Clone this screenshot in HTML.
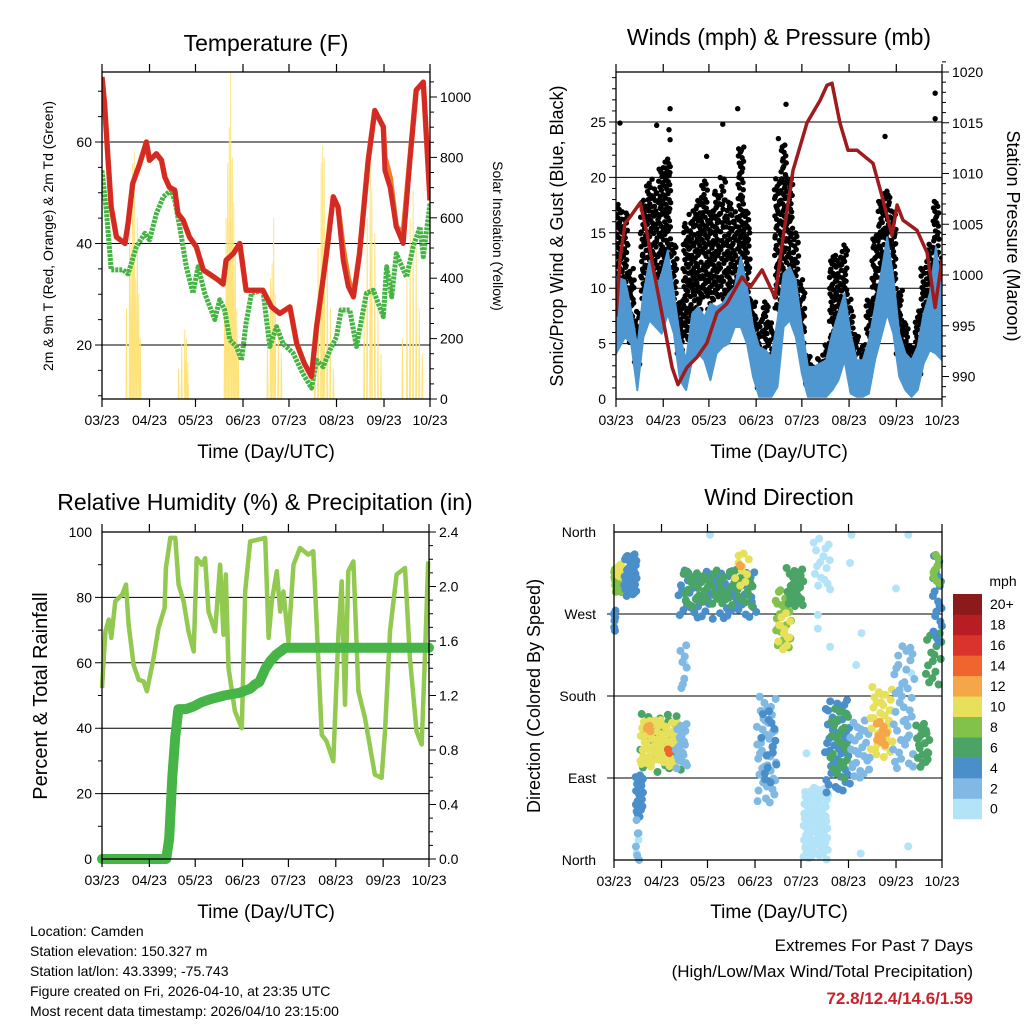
<!DOCTYPE html>
<html><head><meta charset="utf-8"><style>
body{margin:0;background:#fff;}
svg{display:block;font-family:"Liberation Sans",sans-serif;}
</style></head><body>
<svg id="c" width="1024" height="1024" viewBox="0 0 1024 1024">
<rect width="1024" height="1024" fill="#fff"/>
<g id="g1"></g>
<g id="g2"></g>
<g id="g3"></g>
<g id="g4"></g>
<text x="266" y="51" font-size="23" text-anchor="middle">Temperature (F)</text>
<text x="779" y="45" font-size="23" text-anchor="middle">Winds (mph) &amp; Pressure (mb)</text>
<text x="265" y="510" font-size="23" text-anchor="middle">Relative Humidity (%) &amp; Precipitation (in)</text>
<text x="779" y="505" font-size="23" text-anchor="middle">Wind Direction</text>
<text x="266" y="458" font-size="19" text-anchor="middle">Time (Day/UTC)</text>
<text x="779" y="458" font-size="19" text-anchor="middle">Time (Day/UTC)</text>
<text x="266" y="918" font-size="19" text-anchor="middle">Time (Day/UTC)</text>
<text x="779" y="918" font-size="19" text-anchor="middle">Time (Day/UTC)</text>
<text transform="translate(53,236) rotate(-90)" font-size="14" text-anchor="middle">2m &amp; 9m T (Red, Orange) &amp; 2m Td (Green)</text>
<text transform="translate(493,236) rotate(90)" font-size="14" text-anchor="middle">Solar Insolation (Yellow)</text>
<text transform="translate(563,236) rotate(-90)" font-size="18" text-anchor="middle">Sonic/Prop Wind &amp; Gust (Blue, Black)</text>
<text transform="translate(1007,236) rotate(90)" font-size="18" text-anchor="middle">Station Pressure (Maroon)</text>
<text transform="translate(47,696) rotate(-90)" font-size="20" text-anchor="middle">Percent &amp; Total Rainfall</text>
<text transform="translate(540,696) rotate(-90)" font-size="18" text-anchor="middle">Direction (Colored By Speed)</text>
<text x="1003" y="586" font-size="14" text-anchor="middle">mph</text>
<g font-size="14">
<text x="30" y="936">Location: Camden</text>
<text x="30" y="956">Station elevation: 150.327 m</text>
<text x="30" y="976">Station lat/lon: 43.3399; -75.743</text>
<text x="30" y="996">Figure created on Fri, 2026-04-10, at 23:35 UTC</text>
<text x="30" y="1016">Most recent data timestamp: 2026/04/10 23:15:00</text>
</g>
<text x="973" y="951" font-size="17" text-anchor="end">Extremes For Past 7 Days</text>
<text x="973" y="977" font-size="17" text-anchor="end">(High/Low/Max Wind/Total Precipitation)</text>
<text x="973" y="1004" font-size="17" font-weight="bold" fill="#c8232c" text-anchor="end">72.8/12.4/14.6/1.59</text>
</svg>
<script>
// ---------- DATA ----------
const monthTicks=[0,31,61,92,122,153,184,214];
const monthLabels=["03/23","04/23","05/23","06/23","07/23","08/23","09/23","10/23"];
const tDays=[0,1.7,4,6,9.4,15,17,20,24.6,29,31,35.5,38.8,41,44,47.5,49.6,53,57,61.6,66,70,75.8,79,81,85.6,89.9,94,98.6,105,110.6,116,122.6,127,132,136.7,140,146.5,150.9,154,157.4,160.7,164,168,173.7,178,183.5,184.6,188,192,196.5,201,205,209.6,214];
const tRed=[72.8,67.5,56.4,47.2,41.3,40,44,51.8,55.7,60,56.4,57.7,56.4,53.1,51.1,50.5,45.9,44.6,41.3,39.3,34.8,34,32.8,32,36.7,38,40,30.8,30.8,30.8,27.5,26.2,27.5,20.3,16.4,13.8,23.6,38,49.2,47.2,36.7,31.5,29.5,38,56.4,66.2,63,54.4,51.1,43.3,40,57,70.2,71.8,48.5];
const tOrange=[72.8,67.5,56.4,47.2,41.3,40,44,51.8,55.7,60,56.4,57.7,56.4,53.1,51.1,50.5,45.9,44.6,41.3,39.3,34.8,34,32.8,32,36.7,38,40,30.8,30.8,30.8,27.5,26.2,27.5,20.3,16.4,13.8,23.6,38,49.2,47.2,39,33,29.5,38,56.4,66.2,63,57,53,43.3,42,57,70.2,71.8,48.5];
const tdDays=[0,2.8,6,13.7,17,22.4,28,31,35.5,40,45,47.5,50.7,55,59.4,62.7,67,73.6,76.8,80,83.4,87.7,91,94,97.5,105,109.5,113.9,118,124.7,131,136.7,140,144.3,148.7,153,156,161.7,166,172.6,177,183.5,185.7,189,192,198.7,203,207.5,209.6,214];
const tdVals=[54.4,46.6,34.8,34.8,34,39.3,42,40.7,45.9,49.2,50.5,48.5,43.3,35.4,30.2,35.4,30.2,25,28.9,26.9,21,19.7,17,24.3,30.2,30.8,19.7,23.6,20.3,18.4,14.4,11.5,17,15.7,19,21.6,26.9,26.9,19.7,30.2,30.8,25.6,35.4,29.5,38,33.4,39.3,43.3,37.4,47.9];
const solarDays=[16,18,19,20,21,22,23,24,25,50,52,54,55,56,80,81,82,83,84,85,86,87,88,89,108,110,111,112,113,115,117,139,141,143,144,145,147,149,151,171,173,175,176,178,180,182,196,199,201,203,205,207,209];
const solarVals=[300,650,500,780,820,400,600,350,200,100,180,230,200,120,300,600,780,900,1080,800,650,500,300,150,200,400,450,600,350,250,150,200,500,780,840,800,600,300,100,300,600,790,700,550,300,150,200,400,600,690,500,300,150];
const pDays=[0,2.6,5.9,9.2,15.8,20.4,24.3,30.9,36.8,40.7,46.6,53.2,59.7,66.3,72.9,82.7,88,95.9,104.4,109.7,116.2,125.4,134,138.5,141.8,147,152.3,158.2,168.7,175.3,181.2,184.5,188.4,197.6,204.2,209.5,214];
const pVals=[995.9,1001.5,1005.1,1005.7,1007.1,1004.1,1000.8,995.6,990.9,989.2,990.9,991.9,993.3,996.3,997.2,999.8,998.8,1000.5,997.8,1003.7,1010.3,1015,1017.2,1018.7,1018.9,1015,1012.3,1012.3,1011,1007.4,1003.9,1006.9,1005.4,1004.4,1002.2,996.8,1001.5];
const windStep=4;
const blueHi=[11,10.7,8,4.7,9.5,12.5,9.8,11.3,13.4,9.5,5.6,3.5,7.7,8.3,7.4,8.6,8.3,8.6,9.5,10.1,12.8,10.1,6.5,4.7,4.4,3.8,7.1,11.3,11.9,10.7,6.5,2.9,2.9,3.2,3.5,5.9,7.7,9.5,5.9,3.5,3.5,5.3,8.3,11.3,14.6,11,5.9,4.1,3.5,4.7,7.7,9.5,13.7,9.5];
const blueLo=[4.1,5.6,5,0.8,5.6,7.1,6.5,5.9,7.7,5.9,1.7,0.8,3.5,4.1,3.5,1.7,4.1,4.7,5,6.5,6.5,5,2,0.2,0.2,0.2,1.1,6.5,7.1,5.6,2.3,0.2,0.2,0.2,0.2,0.8,1.7,3.5,0.5,0.2,0.2,0.5,3.5,5.6,7.7,5.9,2,0.8,0.2,0.8,3.2,4.4,4.1,3.5];
const gustHi=[18,17,12,8,18,20,19,21,22,14,9,16,17,18,20,17,19,20,18,17,23,17,9,7,9,7,20,23,20,15,11,4,3,4,5,13,13,14,9,6,5,9,15,18,19,17,10,7,5,8,12,14,18,13];
const gustLo=[6,8,5,3,9,10,8,10,11,7,4,5,7,8,9,8,9,9,8,8,10,9,4,1,2,1,8,10,10,7,4,1,0.5,0.5,1,3,5,6,2,1,1,2,7,9,10,8,4,2,0.5,2,5,7,6,6];
const gustOutDays=[2.6,35.5,26.7,79.9,70.1,111.6,209.5,209.5,176.6,34.8,35.5,106.6,59.5];
const gustOutVals=[24.9,26.2,24.7,26.2,24.8,26.6,27.6,25.3,23.7,24.3,23.4,23.5,21.9];
const rhDays=[0,2.2,4.4,6.1,8.7,13.1,15.7,17.4,20.7,24,27.2,29.4,33.8,37,41,41.8,44.7,48,50.1,53.4,56.6,60,62,65.4,67.5,69.7,74,77.3,79.5,81,82.8,87,91.5,93.7,97,106.8,109,111.1,114.4,116.6,118.7,122,125.3,129.6,135,138.3,140.5,143.8,147,151.4,154.7,156.9,159,161.2,164.5,167.8,172.1,178.6,183,185.2,188.5,192.8,198.3,201.5,205.9,209.2,211.3,213.5];
const rhVals=[52.3,69.6,73.2,67.6,78.8,80.8,83.9,71.7,59.4,54.8,54.3,51.3,61.5,70.6,76.8,89,98.2,98.2,83.9,78.8,69.6,63.5,92,90,92,75.7,69.6,90,68.6,87,58.4,45.2,40,81.9,97.1,98.2,67.6,78.8,88,75.7,81.8,66.6,90,95.1,93.1,94.1,71.7,38,36,29.9,68.6,84.9,47.2,88,91,51.3,43.1,25.8,24.8,39,69.6,87,89,61.5,39,35,61.5,91];
const prDays=[0,42,44,46,48,50,55,60,65,70,80,90,97,100,103,107,110,114,120,214];
const prVals=[0,0,0.15,0.6,0.9,1.1,1.1,1.12,1.15,1.17,1.2,1.22,1.25,1.28,1.3,1.4,1.45,1.5,1.55,1.55];
const clDay0=[0,17,1.7,6.5,0,17,21,35,40,14,13.7,42,45,79,82,43,93,96,105,107,112.6,123.5,130,137.6,141,154,167,171,182,197,203,208,208];
const clDay1=[8.3,44,6.1,14.8,1.3,43,24.6,37.6,48,19,17,93,91,88,83,48,106,106,116,115,123.5,140,141,154,153,167,182,178,196,206,214,214,212.6];
const clDeg0=[293,95,311,289,245,102,139,117,99,44,0,264,278,300,322,183,62,80,231,231,278,0,300,73,88,88,113,124,99,102,190,238,300];
const clDeg1=[322,161,326,337,278,154,148,123,150,95,44,319,319,337,326,238,180,168,297,271,322,80,358,176,168,154,190,154,238,150,253,337,337];
const clSpd=[8,7,10,4,4,10,12,14,3,4,2,4,7,10,12,2,2,4,9,10,7,1,1,5,6,2,10,12,3,6,7,4,9];
const clN=[40,40,12,35,6,60,4,3,20,20,6,70,60,10,2,8,40,15,25,12,25,80,15,50,25,25,35,10,40,20,15,20,8];
const dotDays=[62.6,155,192,154,184,141,133,133,161.5,141,158,194,125.6,161,192,46,16,14.8];
const dotDegs=[357,357,357,326,298,297,269,254,249,234,214,205,117,7,15,216,22,7];
const spdColors=["#b3e3f7","#7fb9e4","#4a8fc9","#4aa466","#82c24b","#e6e05a","#f5a649","#f06430","#d9332b","#b81d24","#8b1a1a"];
const spdLabels=["0","2","4","6","8","10","12","14","16","18","20+"];

// ---------- HELPERS ----------
const NS="http://www.w3.org/2000/svg";
function mk(parent,tag,attrs){const e=document.createElementNS(NS,tag);for(const k in attrs)e.setAttribute(k,attrs[k]);parent.appendChild(e);return e;}
function txt(parent,x,y,s,size,anchor){const t=mk(parent,"text",{x:x,y:y,"font-size":size,"text-anchor":anchor});t.textContent=s;return t;}
function scaleX(p){return d=>p.x0+d/214*(p.x1-p.x0);}
function lin(v0,y0,v1,y1){return v=>y0+(v-v0)*(y1-y0)/(v1-v0);}
function frame(g,p){
  const r=mk(g,"rect",{x:p.x0,y:p.y0,width:p.x1-p.x0,height:p.y1-p.y0,fill:"none",stroke:"#000","stroke-width":1.3});
  
  
  const X=scaleX(p);
  monthTicks.forEach((d,i)=>{
    const x=X(d);
    mk(g,"line",{x1:x,x2:x,y1:p.y1,y2:p.y1+8,stroke:"#000","stroke-width":1.2});
    mk(g,"line",{x1:x,x2:x,y1:p.y0,y2:p.y0-8,stroke:"#000","stroke-width":1.2});
    const t=txt(g,x,p.y1+26,monthLabels[i],14,"middle");
    
    
  });
}
function gridY(g,p,y,label){
  mk(g,"line",{x1:p.x0-7,x2:p.x1,y1:y,y2:y,stroke:"#000","stroke-width":1});
  const t=txt(g,p.x0-10,y+5,label,14,"end");
  
  
}
function rightTick(g,p,y,label,minor){
  mk(g,"line",{x1:p.x1,x2:p.x1+(minor?4:7),y1:y,y2:y,stroke:"#000","stroke-width":1});
  if(label!==null){const t=txt(g,p.x1+10,y+5,label,14,"start");
  
  }
}
function leftMinor(g,p,y){mk(g,"line",{x1:p.x0-4,x2:p.x0,y1:y,y2:y,stroke:"#000","stroke-width":1});}
function path(xs,ys){return xs.map((x,i)=>(i?"L":"M")+x.toFixed(1)+","+ys[i].toFixed(1)).join("");}
function halton(i,b){let f=1,r=0;while(i>0){f/=b;r+=f*(i%b);i=Math.floor(i/b);}return r;}

// ---------- PANEL 1: TEMPERATURE ----------
(function(){
  const g=document.getElementById("g1");
  const p={x0:102,x1:430,y0:72,y1:399};
  const X=scaleX(p), Y=lin(20,345,60,142), S=lin(0,399,1000,97);
  for(let v=10;v<=70;v+=5){if(v%20)leftMinor(g,p,Y(v));}
  [20,40,60].forEach(v=>gridY(g,p,Y(v),String(v)));
  for(let v=0;v<=1050;v+=50){rightTick(g,p,S(v),v%200===0?String(v):null,v%200!==0);}
  const cp=mk(g,"clipPath",{id:"cl1"});mk(cp,"rect",{x:p.x0,y:p.y0,width:p.x1-p.x0,height:p.y1-p.y0});
  const pg=mk(g,"g",{"clip-path":"url(#cl1)"});
  let sx=[],sy=[];sx.push(X(0));sy.push(S(0));
  solarDays.forEach((d,i)=>{sx.push(X(d-0.35),X(d),X(d+0.35));sy.push(S(0),S(solarVals[i]),S(0));});
  const sl=mk(pg,"path",{d:path(sx,sy),fill:"none",stroke:"#fde37a","stroke-width":0.9});
  
  
  const td=mk(pg,"path",{d:path(tdDays.map(X),tdVals.map(Y)),fill:"none",stroke:"#45b445","stroke-width":5,"stroke-dasharray":"3 1","stroke-linejoin":"round"});
  
  
  const or=mk(pg,"path",{d:path(tDays.map(X),tOrange.map(Y)),fill:"none",stroke:"#f07a26","stroke-width":5.5,"stroke-linejoin":"round"});
  
  
  const rd=mk(pg,"path",{d:path(tDays.map(X),tRed.map(Y)),fill:"none",stroke:"#d42a26","stroke-width":5,"stroke-linejoin":"round"});
  
  
  frame(g,p);
})();

// ---------- PANEL 2: WINDS ----------
(function(){
  const g=document.getElementById("g2");
  const p={x0:616,x1:942,y0:72,y1:399};
  const X=scaleX(p), Y=lin(0,399,25,122), P=lin(1020,72,990,376.5);
  for(let v=1;v<=29;v++){if(v%5)leftMinor(g,p,Y(v));}
  [5,10,15,20,25].forEach(v=>gridY(g,p,Y(v),String(v)));
  const z=txt(g,p.x0-10,Y(0)+5,"0",14,"end");
  
  
  for(let v=988;v<=1021;v++){rightTick(g,p,P(v),v%5===0?String(v):null,v%5!==0);}
  const cp=mk(g,"clipPath",{id:"cl2"});mk(cp,"rect",{x:p.x0,y:p.y0,width:p.x1-p.x0,height:p.y1-p.y0});
  const pg=mk(g,"g",{"clip-path":"url(#cl2)"});
  const gg=mk(pg,"g",{fill:"#000"});
  
  
  let k=1;
  gustHi.forEach((hi,i)=>{
    const lo=gustLo[i];const n=Math.round((hi-lo)*4)+4;
    for(let j=0;j<n;j++,k++){
      const d=i*windStep+halton(k,2)*windStep;
      const v=lo+halton(k,3)*(hi-lo);
      mk(gg,"circle",{cx:X(d),cy:Y(v),r:2.7});
    }
  });
  gustOutDays.forEach((d,i)=>mk(gg,"circle",{cx:X(d),cy:Y(gustOutVals[i]),r:2.7}));
  const bd=blueHi.map((_,i)=>i*windStep+windStep/2);
  bd[0]=0;bd[bd.length-1]=214;
  const xs=bd.map(X).concat(bd.slice().reverse().map(X));
  const ys=blueHi.map(Y).concat(blueLo.slice().reverse().map(Y));
  const bl=mk(pg,"path",{d:path(xs,ys)+"Z",fill:"#4f97d1",stroke:"#4f97d1","stroke-width":2,"stroke-linejoin":"round"});
  
  
  const pl=mk(pg,"path",{d:path(pDays.map(X),pVals.map(P)),fill:"none",stroke:"#9e1b1e","stroke-width":3.5,"stroke-linejoin":"round"});
  
  
  frame(g,p);
})();

// ---------- PANEL 3: HUMIDITY ----------
(function(){
  const g=document.getElementById("g3");
  const p={x0:102,x1:429,y0:532,y1:859};
  const X=scaleX(p), Y=lin(0,859,100,532), R=lin(0,859,2.4,532);
  for(let v=10;v<100;v+=20)leftMinor(g,p,Y(v));
  [20,40,60,80].forEach(v=>gridY(g,p,Y(v),String(v)));
  [0,100].forEach(v=>{const t=txt(g,p.x0-10,Y(v)+5,String(v),14,"end");
  
  });
  for(let v=0;v<=24;v++){rightTick(g,p,R(v/10),v%4===0?(v/10).toFixed(1):null,v%4!==0);}
  const cp=mk(g,"clipPath",{id:"cl3"});mk(cp,"rect",{x:p.x0-6,y:p.y0,width:p.x1-p.x0+12,height:p.y1-p.y0+6});
  const pg=mk(g,"g",{"clip-path":"url(#cl3)"});
  const rh=mk(pg,"path",{d:path(rhDays.map(X),rhVals.map(Y)),fill:"none",stroke:"#92c950","stroke-width":4.5,"stroke-linejoin":"round"});
  
  
  const pr=mk(pg,"path",{d:path(prDays.map(X),prVals.map(R)),fill:"none",stroke:"#46b446","stroke-width":10,"stroke-linejoin":"round","stroke-linecap":"round"});
  
  
  frame(g,p);
})();

// ---------- PANEL 4: WIND DIRECTION ----------
(function(){
  const g=document.getElementById("g4");
  const p={x0:614,x1:942,y0:532,y1:860};
  const X=scaleX(p), Y=lin(0,860,360,532);
  const dn=["North","East","South","West","North"];
  [0,90,180,270,360].forEach((v,i)=>{
    if(i>0&&i<4)mk(g,"line",{x1:p.x0-7,x2:p.x1,y1:Y(v),y2:Y(v),stroke:"#000","stroke-width":1});
    const t=txt(g,p.x0-18,Y(v)+5,dn[i],14,"end");
    
    
  });
  const cp=mk(g,"clipPath",{id:"cl4"});mk(cp,"rect",{x:p.x0-4,y:p.y0-4,width:p.x1-p.x0+8,height:p.y1-p.y0+8});
  const pg=mk(g,"g",{"clip-path":"url(#cl4)"});
  const col=s=>spdColors[Math.min(10,Math.floor(s/2))];
  const sg=mk(pg,"g",{});
  
  
  dotDays.forEach((d,i)=>mk(sg,"circle",{cx:X(d),cy:Y(dotDegs[i]),r:4,fill:spdColors[0]}));
  let k=1;
  clDay0.forEach((d0,i)=>{
    const cg=mk(pg,"g",{fill:col(clSpd[i])});
    
    
    for(let j=0;j<clN[i];j++,k++){
      const d=d0+halton(k,2)*(clDay1[i]-d0);
      const v=clDeg0[i]+halton(k,3)*(clDeg1[i]-clDeg0[i]);
      mk(cg,"circle",{cx:X(d),cy:Y(v),r:4});
    }
  });
  frame(g,p);
  const cb=mk(g,"g",{});
  
  
  const h=20.45, top=594;
  spdColors.forEach((c,i)=>{
    const y=top+(10-i)*h;
    mk(cb,"rect",{x:953,y:y,width:29,height:h+0.3,fill:c});
    const t=txt(cb,990,y+h/2+5,spdLabels[i],14,"start");
    
    
  });
})();
</script>
</body></html>
